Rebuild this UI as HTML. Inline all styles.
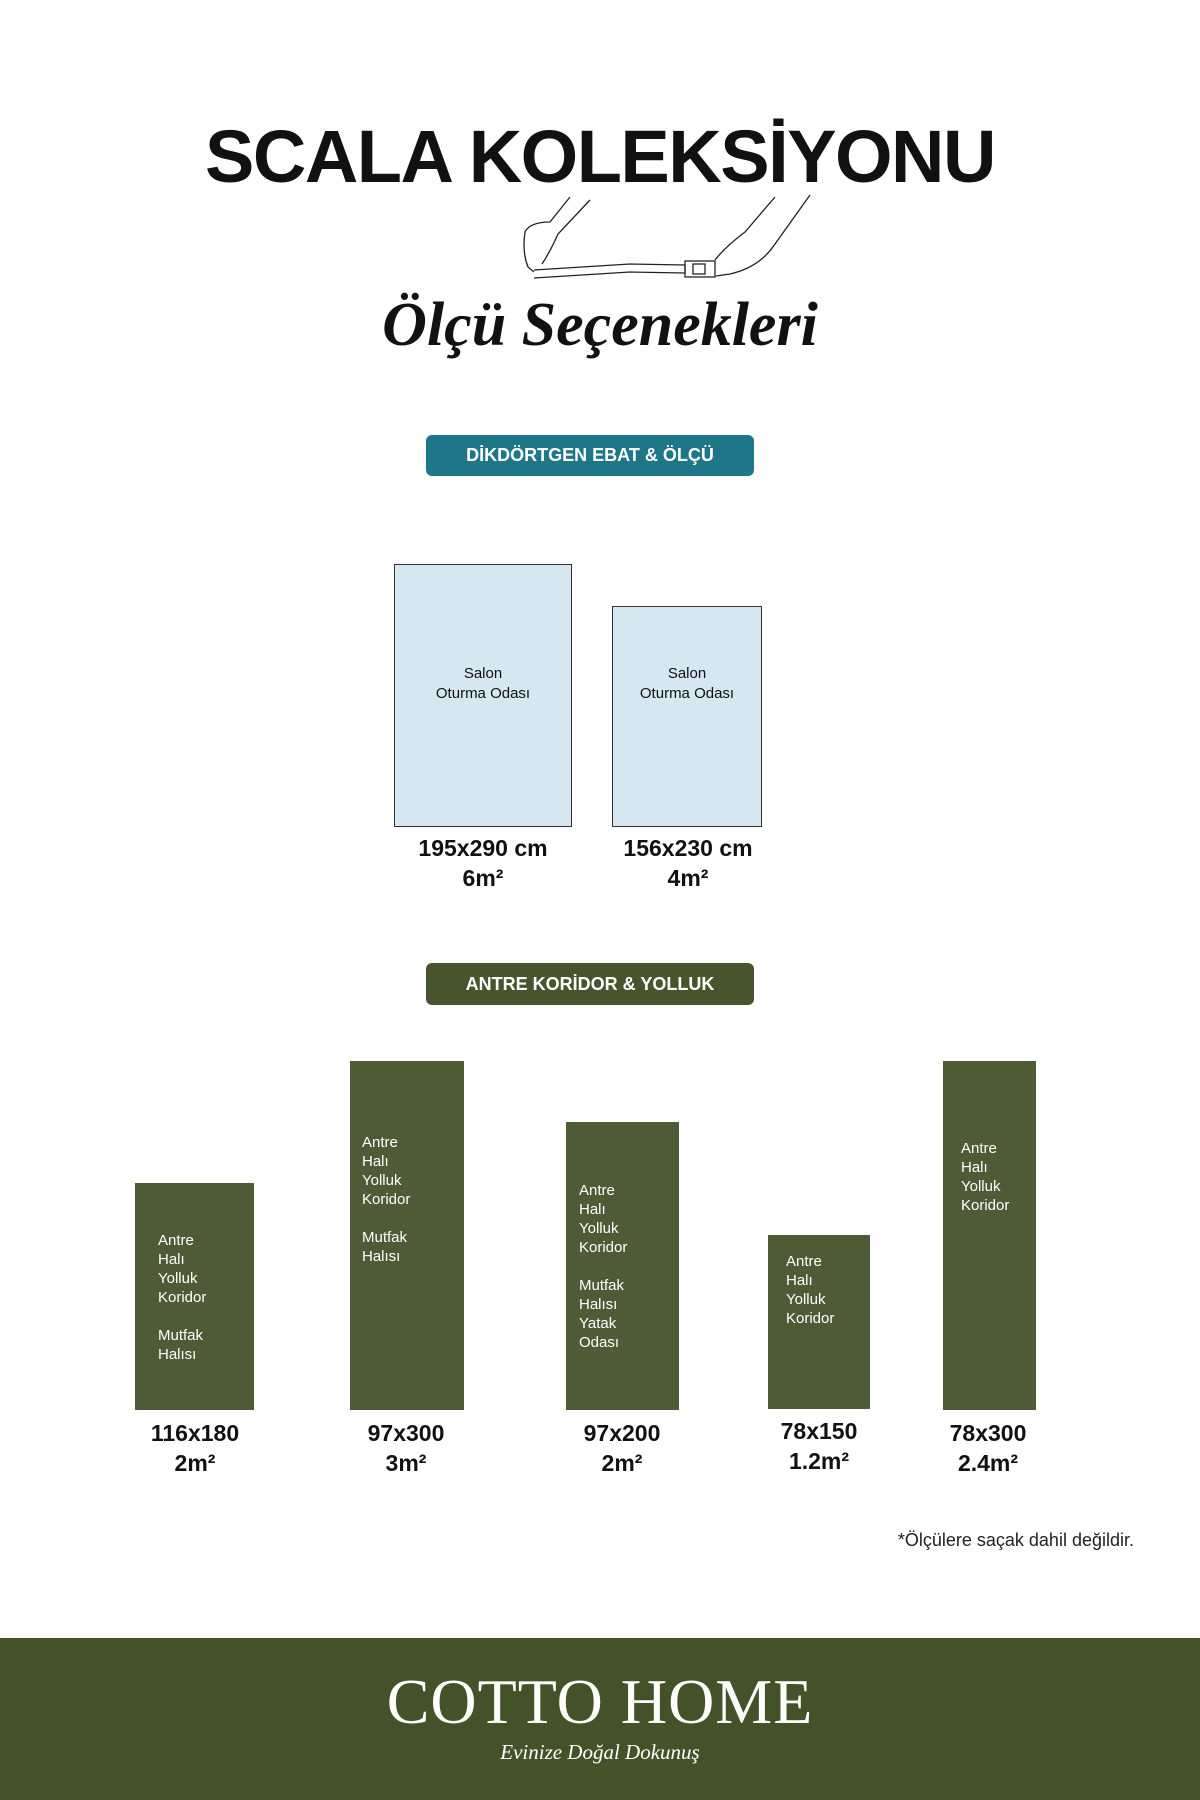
<!DOCTYPE html>
<html><head><meta charset="utf-8"><style>
body{margin:0;width:1200px;height:1800px;background:#fff;position:relative;font-family:"Liberation Sans",sans-serif;overflow:hidden}
.a{position:absolute}
.c{text-align:center}
.g{background:#4f5a37;}
.gt{position:absolute;color:#fff;font-size:15px;line-height:19px;font-weight:normal}
.lab{position:absolute;width:160px;text-align:center;font-weight:bold;font-size:23px;line-height:30px;color:#111}
</style></head><body>
<div class="a c" style="left:0;width:1200px;top:114px;font-size:74px;font-weight:bold;letter-spacing:-1.5px;color:#111">SCALA KOLEKSİYONU</div>
<svg class="a" style="left:520px;top:192px" width="300" height="90" viewBox="0 0 300 90" fill="none" stroke="#222" stroke-width="1.3">
<path d="M50 5 L30 30 Q10 30 5 40 Q2 60 8 75 L14 80"/><path d="M70 8 L38 42 Q30 60 22 72"/><path d="M14 78 L110 72 L165 73 L165 81 L110 80 L14 86"/>
<rect x="165" y="69" width="30" height="16"/><rect x="173" y="72" width="12" height="10"/>
<path d="M255 5 L225 40 Q205 55 195 68"/><path d="M290 3 L255 52 Q240 75 210 82 L196 84"/>
</svg>
<div class="a c" style="left:0;width:1200px;top:290px;font-family:'Liberation Serif',serif;font-style:italic;font-weight:bold;font-size:62px;color:#111">Ölçü Seçenekleri</div>
<div class="a c" style="left:426px;top:435px;width:328px;height:41px;line-height:41px;background:#1e7689;border-radius:6px;color:#fff;font-weight:bold;font-size:18px">DİKDÖRTGEN EBAT &amp; ÖLÇÜ</div>
<div class="a" style="left:394px;top:564px;width:176px;height:261px;background:#d5e7f1;border:1px solid #333"></div>
<div class="a" style="left:612px;top:606px;width:148px;height:219px;background:#d5e7f1;border:1px solid #333"></div>
<div class="a c" style="left:394px;width:178px;top:664px;font-size:15px;line-height:20px;color:#111">Salon<br>Oturma Odası</div>
<div class="a c" style="left:612px;width:150px;top:664px;font-size:15px;line-height:20px;color:#111">Salon<br>Oturma Odası</div>
<div class="lab" style="left:403px;top:833px">195x290 cm<br>6m²</div>
<div class="lab" style="left:608px;top:833px">156x230 cm<br>4m²</div>
<div class="a c" style="left:426px;top:963px;width:328px;height:42px;line-height:42px;background:#48542e;border-radius:6px;color:#fff;font-weight:bold;font-size:18px">ANTRE KORİDOR &amp; YOLLUK</div>
<div class="a g" style="left:135px;top:1183px;width:119px;height:227px"></div>
<div class="a g" style="left:350px;top:1061px;width:114px;height:349px"></div>
<div class="a g" style="left:566px;top:1122px;width:113px;height:288px"></div>
<div class="a g" style="left:768px;top:1235px;width:102px;height:174px"></div>
<div class="a g" style="left:943px;top:1061px;width:93px;height:349px"></div>
<div class="gt" style="left:158px;top:1231px">Antre<br>Halı<br>Yolluk<br>Koridor<br><br>Mutfak<br>Halısı</div>
<div class="gt" style="left:362px;top:1133px">Antre<br>Halı<br>Yolluk<br>Koridor<br><br>Mutfak<br>Halısı</div>
<div class="gt" style="left:579px;top:1181px">Antre<br>Halı<br>Yolluk<br>Koridor<br><br>Mutfak<br>Halısı<br>Yatak<br>Odası</div>
<div class="gt" style="left:786px;top:1252px">Antre<br>Halı<br>Yolluk<br>Koridor</div>
<div class="gt" style="left:961px;top:1139px">Antre<br>Halı<br>Yolluk<br>Koridor</div>
<div class="lab" style="left:115px;top:1418px">116x180<br>2m²</div>
<div class="lab" style="left:326px;top:1418px">97x300<br>3m²</div>
<div class="lab" style="left:542px;top:1418px">97x200<br>2m²</div>
<div class="lab" style="left:739px;top:1416px">78x150<br>1.2m²</div>
<div class="lab" style="left:908px;top:1418px">78x300<br>2.4m²</div>
<div class="a" style="right:66px;top:1530px;font-size:18px;color:#222">*Ölçülere saçak dahil değildir.</div>
<div class="a" style="left:0;top:1638px;width:1200px;height:162px;background:#44522a"></div>
<div class="a c" style="left:0;width:1200px;top:1665px;font-family:'Liberation Serif',serif;font-size:64px;color:#fff;letter-spacing:1px">COTTO HOME</div>
<div class="a c" style="left:0;width:1200px;top:1740px;font-family:'Liberation Serif',serif;font-style:italic;font-size:21px;color:#fff">Evinize Doğal Dokunuş</div>
</body></html>
